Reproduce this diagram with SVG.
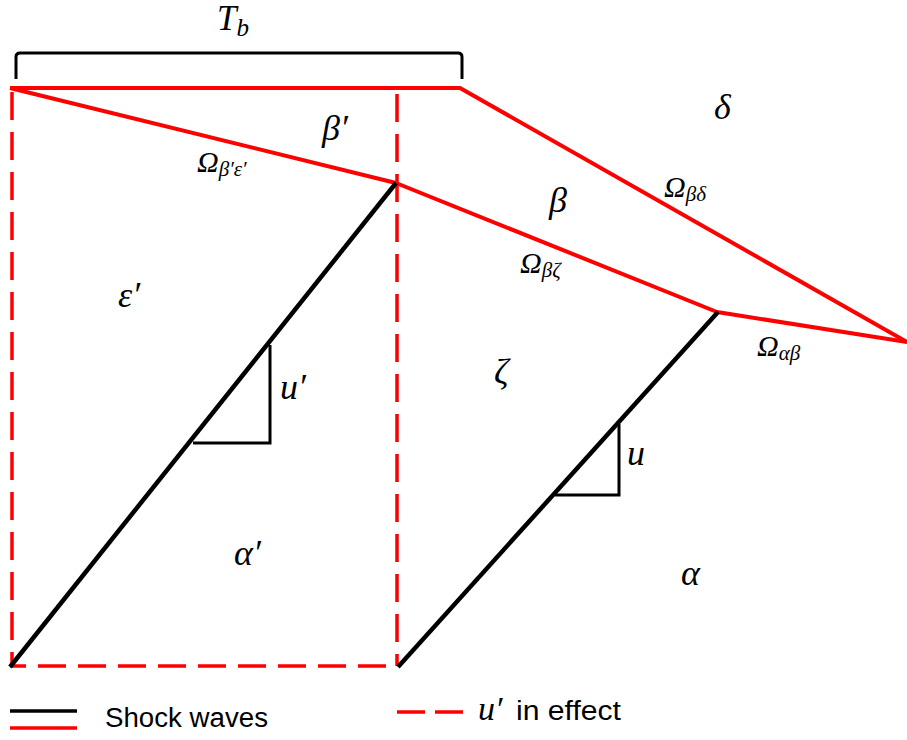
<svg xmlns="http://www.w3.org/2000/svg" width="907" height="740" viewBox="0 0 907 740">
<style>
.red{stroke:#ff0000;stroke-width:4;fill:none;stroke-linejoin:round}
.dash{stroke:#ff0000;stroke-width:3.5;fill:none;stroke-dasharray:28 12}
.blk{stroke:#000;stroke-width:4.5;fill:none}
.tri{stroke:#000;stroke-width:3;fill:none}
.m{font-family:"Liberation Serif","DejaVu Serif",serif;font-style:italic;fill:#000}
.l{font-size:36px}
.o{font-size:30px}
.s{font-size:21px}
.t{font-family:"Liberation Sans","Open Sans",sans-serif;font-size:27px;fill:#000}
</style>
<rect width="907" height="740" fill="#fff"/>
<g id="bracket">
<path d="M16 79 V57 Q16 53 20 53 H458 Q462 53 462 57 V79" stroke="#000" stroke-width="3" fill="none"/>
<text class="m" x="217" y="30" font-size="35">T<tspan font-size="25" dy="6">b</tspan></text>
</g>
<g id="connectors">
<path class="red" d="M10 88 H460 L907 342"/>
<path class="red" d="M10 88 L396 183 L717 312 L907 342"/>
<path class="dash" d="M12 92 V666 H398"/>
<path class="dash" d="M397 94 V666"/>
<path class="blk" d="M10 667 L396 183"/>
<path class="blk" d="M398 667 L718 312"/>
<path class="tri" d="M270 345 V443 H193"/>
<path class="tri" d="M619 424 V495 H555"/>
</g>
<g id="labels">
<text class="m l" x="322" y="140">β′</text>
<text class="m l" x="714" y="119">δ</text>
<text class="m l" x="549" y="212">β</text>
<text class="m l" x="118" y="307">ε′</text>
<text class="m l" x="494" y="384">ζ</text>
<text class="m l" x="280" y="399">u′</text>
<text class="m l" x="627" y="465">u</text>
<text class="m l" x="234" y="565">α′</text>
<text class="m l" x="681" y="585">α</text>
<text class="m" x="197" y="172"><tspan class="o">Ω</tspan><tspan class="s" dy="4">β′ε′</tspan></text>
<text class="m" x="664" y="197"><tspan class="o">Ω</tspan><tspan class="s" dy="4">βδ</tspan></text>
<text class="m" x="520" y="273"><tspan class="o">Ω</tspan><tspan class="s" dy="4">βζ</tspan></text>
<text class="m" x="757" y="356"><tspan class="o">Ω</tspan><tspan class="s" dy="4">αβ</tspan></text>
</g>
<g id="legend">
<line x1="10" y1="711" x2="77" y2="711" stroke="#000" stroke-width="3.5"/>
<line x1="10" y1="728" x2="77" y2="728" stroke="#ff0000" stroke-width="3.5"/>
<text class="t" x="105" y="727" textLength="163" lengthAdjust="spacingAndGlyphs">Shock waves</text>
<line x1="397" y1="712" x2="463" y2="712" stroke="#ff0000" stroke-width="3.5" stroke-dasharray="28 10"/>
<text class="m" x="478" y="720" font-size="34">u′</text>
<text class="t" x="516" y="720" textLength="105" lengthAdjust="spacingAndGlyphs">in effect</text>
</g>
</svg>
